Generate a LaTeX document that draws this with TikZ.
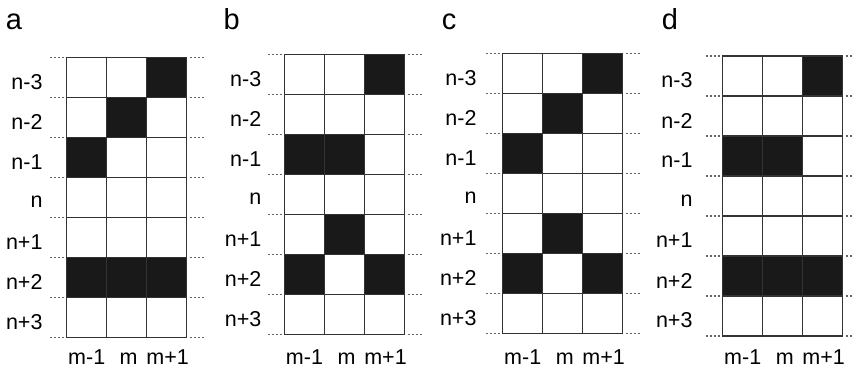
\documentclass[tikz,border=0pt]{standalone}
\usepackage{fontspec}
\setmainfont{Liberation Sans}
\tikzset{
  cellfill/.style={fill=black!90},
  gridline/.style={draw=black!80, line width=1.5pt, line cap=rect},
  tickline/.style={draw=black!60, line width=1.4pt, dash pattern=on 2pt off 2pt},
  rowlab/.style={inner sep=0pt, font=\fontsize{21.5}{24}\selectfont},
  collab/.style={inner sep=0pt, font=\fontsize{21.5}{24}\selectfont},
  panellet/.style={inner sep=0pt, font=\fontsize{29}{32}\selectfont},
}
\newcommand{\gridpanel}[6]{%
  \begin{scope}[shift={(#2,#3)}]
    \node[panellet, anchor=base west] (#1-let) at (-61,{29.5-#3}) {#1};
    \foreach \r/\c in {#6} {
      \fill[cellfill] ({(\c-1)*40},{(\r-1)*40}) rectangle ++(40,40);
    }
    \foreach \i in {0,...,7} {
      \draw[gridline] (0,{\i*40}) -- (120,{\i*40});
      \draw[tickline] (-17,{\i*40}) -- (-2,{\i*40});
      \draw[tickline] (123,{\i*40}) -- (138,{\i*40});
    }
    \foreach \j in {0,...,3} {
      \draw[gridline] ({\j*40},0) -- ({\j*40},280);
    }
    \foreach \t [count=\k] in {n-3,n-2,n-1,n,n+1,n+2,n+3} {
      \node[rowlab, anchor=east] (#1-r\k) at (#5,{(\k-1)*40+24.5}) {\t};
    }
    \node[collab, anchor=base] (#1-c1) at (20,{364.5-#3}) {m-1};
    \node[collab, anchor=base] (#1-c2) at (62,{364.5-#3}) {m};
    \node[collab, anchor=base] (#1-c3) at (101,{364.5-#3}) {m+1};
  \end{scope}
}
\begin{document}
\begin{tikzpicture}[x=1pt,y=-1pt]
  \useasboundingbox (0,0) rectangle (852,370);
  \fill[white] (0,0) rectangle (852,370);
  \gridpanel{a}{66.7}{57.3}{}{-24}{1/3,2/2,3/1,6/1,6/2,6/3}
  \gridpanel{b}{284.5}{54.5}{}{-23}{1/3,3/1,3/2,5/2,6/1,6/3}
  \gridpanel{c}{502.7}{53.5}{}{-26}{1/3,2/2,3/1,5/2,6/1,6/3}
  \gridpanel{d}{722.7}{56}{}{-30}{1/3,3/1,3/2,6/1,6/2,6/3}
\end{tikzpicture}
\end{document}
